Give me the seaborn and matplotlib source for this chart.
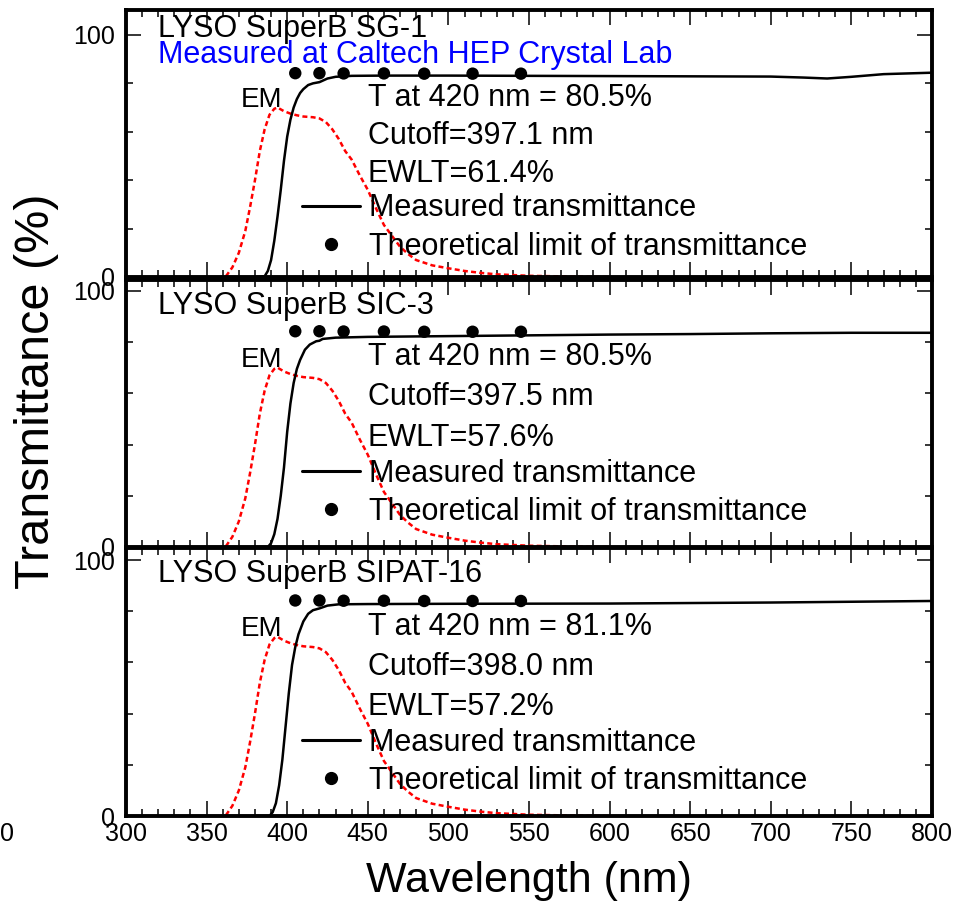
import numpy as np
import pandas as pd
import seaborn as sns
import matplotlib
matplotlib.use("Agg")
import matplotlib.pyplot as plt
from matplotlib.ticker import MultipleLocator, FixedLocator
from matplotlib.lines import Line2D

# ---------------- data ----------------
sample_names = ["LYSO SuperB SG-1", "LYSO SuperB SIC-3", "LYSO SuperB SIPAT-16"]
t420_values = [80.5, 80.5, 81.1]
cutoff_values = [397.1, 397.5, 398.0]
ewlt_values = [61.4, 57.6, 57.2]

wl_sg1 = [380, 386, 388, 390, 392, 394, 396, 398, 400, 402, 404, 406, 408, 410, 413, 416,
          420, 425, 430, 440, 460, 500, 550, 600, 650, 700, 720, 735, 750, 770, 800]
tr_sg1 = [0.0, 0.3, 2.5, 7.0, 15.0, 25.0, 36.0, 48.0, 58.0, 65.0, 70.0, 73.5, 76.0, 77.6, 79.3, 80.0,
          80.5, 82.0, 82.7, 83.1, 83.2, 83.2, 83.1, 83.0, 82.9, 82.8, 82.4, 82.0, 82.7, 83.8, 84.4]

wl_sic3 = [380, 388, 390, 392, 394, 396, 398, 400, 402, 404, 406, 408, 411, 414, 418, 420,
           422, 430, 450, 500, 550, 600, 650, 700, 750, 800]
tr_sic3 = [0.0, 0.0, 1.5, 5.0, 11.0, 20.0, 31.0, 45.0, 56.0, 64.0, 69.5, 73.0, 77.0, 79.0, 80.3, 80.5,
           81.2, 81.7, 82.0, 82.3, 82.6, 82.9, 83.1, 83.4, 83.6, 83.6]

wl_sipat16 = [380, 389, 391, 393, 395, 397, 399, 401, 403, 405, 407, 410, 413, 416, 420, 425,
              432, 450, 500, 600, 700, 800]
tr_sipat16 = [0.0, 0.0, 1.5, 5.0, 12.0, 22.0, 35.0, 48.0, 59.0, 66.0, 71.0, 76.0, 79.0, 80.4, 81.1, 82.2,
              82.7, 82.8, 82.9, 83.0, 83.4, 84.0]

em_wl = [362, 366, 370, 374, 377, 380, 383, 386, 389, 392, 394, 398, 402, 406, 410, 416, 420, 424,
         428, 432, 436, 440, 445, 450, 455, 460, 465, 470, 475, 480, 490, 500, 510, 520, 530, 550,
         575, 600]
em_val = [0.3, 4.0, 10.0, 19.0, 29.0, 40.0, 52.0, 61.0, 67.0, 69.5, 70.0, 68.5, 67.5, 66.8, 66.3,
          66.0, 65.5, 64.0, 61.0, 57.0, 52.0, 48.5, 42.0, 36.0, 28.5, 21.5, 17.0, 12.5, 9.5, 7.0,
          4.8, 3.6, 2.5, 1.7, 1.1, 0.5, 0.2, 0.0]

theory_wl = [405, 420, 435, 460, 485, 515, 545]
theory_val = [84.2, 84.2, 84.1, 84.1, 84.0, 84.0, 84.0]

measured = [(wl_sg1, tr_sg1), (wl_sic3, tr_sic3), (wl_sipat16, tr_sipat16)]
x_ticks = [300, 350, 400, 450, 500, 550, 600, 650, 700, 750, 800]
y_ticks = [0, 100]

# ---------------- style ----------------
sns.set_style("ticks")
plt.rcParams['font.family'] = ['Liberation Sans', 'DejaVu Sans']
plt.rcParams['text.color'] = 'black'
plt.rcParams['xtick.color'] = 'black'
plt.rcParams['ytick.color'] = 'black'
plt.rcParams['xtick.labelcolor'] = 'black'
plt.rcParams['ytick.labelcolor'] = 'black'
plt.rcParams['legend.labelcolor'] = 'black'

W, H = 961, 907
fig = plt.figure(figsize=(W / 100, H / 100), dpi=100)

def rect(top_px, bot_px, left_px=126, right_px=932):
    return [left_px / W, 1 - bot_px / H, (right_px - left_px) / W, (bot_px - top_px) / H]

rects = [rect(10, 277), rect(280, 547), rect(548, 816)]
ytops = [110.3, 104.2, 104.7]
title_y = [102.5, 94.0, 94.5]

TXT = 22
for i, r in enumerate(rects):
    ax = fig.add_axes(r)
    wl, tr = measured[i]
    df_m = pd.DataFrame({"wl": wl, "T": tr})
    df_e = pd.DataFrame({"wl": em_wl, "EM": em_val})
    df_t = pd.DataFrame({"wl": theory_wl, "T": theory_val})

    sns.lineplot(data=df_e, x="wl", y="EM", ax=ax, color="#ff0000", lw=1.8, sort=False)
    ax.lines[-1].set_dashes((2.0, 1.3))
    sns.lineplot(data=df_m, x="wl", y="T", ax=ax, color="black", lw=1.8, sort=False)
    sns.scatterplot(data=df_t, x="wl", y="T", ax=ax, color="black", s=80, edgecolor="none", zorder=5)

    ax.set_xlim(300, 800)
    ax.set_ylim(0, ytops[i])
    ax.set_xlabel("")
    ax.set_ylabel("")
    ax.xaxis.set_major_locator(FixedLocator(x_ticks))
    ax.xaxis.set_minor_locator(MultipleLocator(10))
    ax.yaxis.set_major_locator(FixedLocator(y_ticks))
    ax.yaxis.set_minor_locator(FixedLocator([20, 40, 60, 80]))
    ax.tick_params(which="both", direction="in", top=True, right=True, width=1.1, color="black")
    ax.tick_params(which="major", length=10.5, labelsize=18, pad=8, labelcolor="black")
    ax.tick_params(which="minor", length=5)
    ax.tick_params(axis="x", which="major", pad=4)
    for s in ax.spines.values():
        s.set_linewidth(2.8)
        s.set_color("black")
    if i < 2:
        ax.tick_params(axis="x", labelbottom=False)

    ax.text(320, title_y[i], sample_names[i], fontsize=TXT, va="center", ha="left", color="black")
    if i == 0:
        ax.text(320, 91.8, "Measured at Caltech HEP Crystal Lab", fontsize=TXT,
                va="center", ha="left", color="#0000ff")
    ax.text(371, 73.0, "EM", fontsize=20, va="center", ha="left", color="black")
    ax.text(450, 74, f"T at 420 nm = {t420_values[i]}%", fontsize=TXT, va="center", ha="left")
    ax.text(450, 58.4, f"Cutoff={cutoff_values[i]} nm", fontsize=TXT, va="center", ha="left")
    ax.text(450, 42.4, f"EWLT={ewlt_values[i]}%", fontsize=TXT, va="center", ha="left")

    handles = [Line2D([], [], color="black", lw=2.2),
               Line2D([], [], color="black", marker="o", ls="none", markersize=8.5)]
    ax.legend(handles, ["Measured transmittance", "Theoretical limit of transmittance"],
              loc="upper left", bbox_to_anchor=(409.2, 34.5), bbox_transform=ax.transData,
              frameon=False, fontsize=TXT, handlelength=1.9, handletextpad=0.28,
              borderpad=0, borderaxespad=0, labelspacing=0.27, labelcolor="black")

fig.text(37 / W, 1 - 391 / H, "Transmittance (%)", rotation=90, fontsize=35,
         ha="center", va="center", color="black")
fig.text(529 / W, 1 - 891.7 / H, "Wavelength (nm)", fontsize=31, ha="center", va="baseline",
         color="black")
fig.text(0.0, 1 - 834 / H, "0", fontsize=18, ha="left", va="center", color="black")

fig.savefig("out.png", dpi=100)
